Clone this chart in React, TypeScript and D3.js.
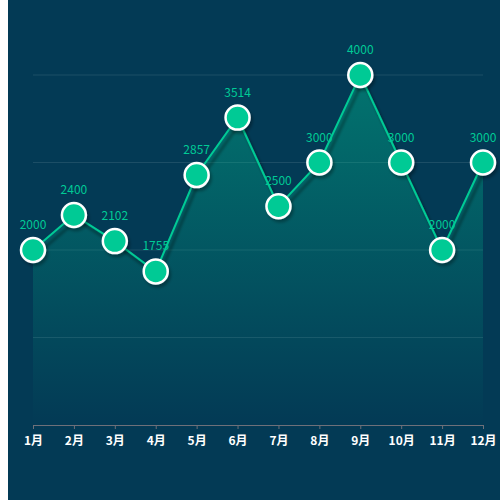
import { useEffect, useRef } from 'react';
import * as d3 from 'd3';

const months = ['1月', '2月', '3月', '4月', '5月', '6月', '7月', '8月', '9月', '10月', '11月', '12月'];
const values = [2000, 2400, 2102, 1755, 2857, 3514, 2500, 3000, 4000, 3000, 2000, 3000];
const gridTicks = [0, 1000, 2000, 3000, 4000];

export default function App() {
  const svgRef = useRef<SVGSVGElement>(null);

  useEffect(() => {
    if (!svgRef.current) return;
    const svg = d3.select(svgRef.current);
    svg.selectAll('*').remove();

    // svg sits at page x=8, so chart coords are offset by -8
    const left = 25;
    const right = 475;
    const top = 75;
    const bottom = 425;

    const x = d3.scalePoint<string>().domain(months).range([left, right]);
    const y = d3.scaleLinear().domain([0, 4000]).range([bottom, top]);

    const defs = svg.append('defs');
    const grad = defs
      .append('linearGradient')
      .attr('id', 'areaGrad')
      .attr('x1', 0)
      .attr('y1', 0)
      .attr('x2', 0)
      .attr('y2', 1);
    grad.append('stop').attr('offset', '0%').attr('stop-color', '#00ca95').attr('stop-opacity', 0.4);
    grad.append('stop').attr('offset', '100%').attr('stop-color', '#00ca95').attr('stop-opacity', 0);

    const shadow = defs
      .append('filter')
      .attr('id', 'shadow')
      .attr('x', '-50%')
      .attr('y', '-50%')
      .attr('width', '200%')
      .attr('height', '200%');
    shadow
      .append('feDropShadow')
      .attr('dx', 3)
      .attr('dy', 5)
      .attr('stdDeviation', 1.5)
      .attr('flood-color', '#000')
      .attr('flood-opacity', 0.45);

    const dotShadow = defs
      .append('filter')
      .attr('id', 'dotShadow')
      .attr('x', '-50%')
      .attr('y', '-50%')
      .attr('width', '200%')
      .attr('height', '200%');
    dotShadow
      .append('feDropShadow')
      .attr('dx', 2)
      .attr('dy', 3)
      .attr('stdDeviation', 1.5)
      .attr('flood-color', '#000')
      .attr('flood-opacity', 0.3);

    // Grid lines
    svg
      .append('g')
      .selectAll('line')
      .data(gridTicks.slice(1))
      .enter()
      .append('line')
      .attr('x1', left)
      .attr('x2', right)
      .attr('y1', (d) => y(d))
      .attr('y2', (d) => y(d))
      .attr('stroke', 'rgba(255,255,255,0.1)')
      .attr('stroke-width', 1);

    // Area
    const area = d3
      .area<number>()
      .x((_, i) => x(months[i]) || 0)
      .y0(bottom)
      .y1((d) => y(d));
    svg.append('path').datum(values).attr('d', area).attr('fill', 'url(#areaGrad)');

    // Line
    const line = d3
      .line<number>()
      .x((_, i) => x(months[i]) || 0)
      .y((d) => y(d));
    svg
      .append('path')
      .datum(values)
      .attr('d', line)
      .attr('fill', 'none')
      .attr('stroke', '#00ca95')
      .attr('stroke-width', 2)
      .attr('filter', 'url(#shadow)');

    // X axis
    const axis = svg
      .append('g')
      .attr('transform', `translate(0,${bottom})`)
      .call(d3.axisBottom(x).tickSize(4).tickSizeOuter(0));
    axis.select('.domain').attr('stroke', '#6e7079');
    axis.selectAll('.tick line').attr('stroke', '#6e7079');
    axis
      .selectAll('text')
      .attr('fill', '#ffffff')
      .attr('font-size', '12px')
      .attr('font-weight', 'bold')
      .attr('font-family', '"Noto Sans CJK SC", sans-serif')
      .attr('dy', '1.05em');

    // Points
    svg
      .append('g')
      .selectAll('circle')
      .data(values)
      .enter()
      .append('circle')
      .attr('cx', (_, i) => x(months[i]) || 0)
      .attr('cy', (d) => y(d))
      .attr('r', 12)
      .attr('fill', '#00ca95')
      .attr('stroke', '#ffffff')
      .attr('stroke-width', 2.5)
      .attr('filter', 'url(#dotShadow)');

    // Value labels
    svg
      .append('g')
      .selectAll('text')
      .data(values)
      .enter()
      .append('text')
      .attr('x', (_, i) => x(months[i]) || 0)
      .attr('y', (d) => y(d) - 21)
      .attr('text-anchor', 'middle')
      .attr('fill', '#00ca95')
      .attr('font-size', '12px')
      .attr('font-family', '"Noto Sans CJK SC", sans-serif')
      .text((d) => d);
  }, []);

  return (
    <div
      style={{
        position: 'absolute',
        left: 8,
        top: 0,
        width: 492,
        height: 500,
        background: '#033a55',
      }}
    >
      <svg ref={svgRef} width={492} height={500} style={{ display: 'block' }} />
    </div>
  );
}
